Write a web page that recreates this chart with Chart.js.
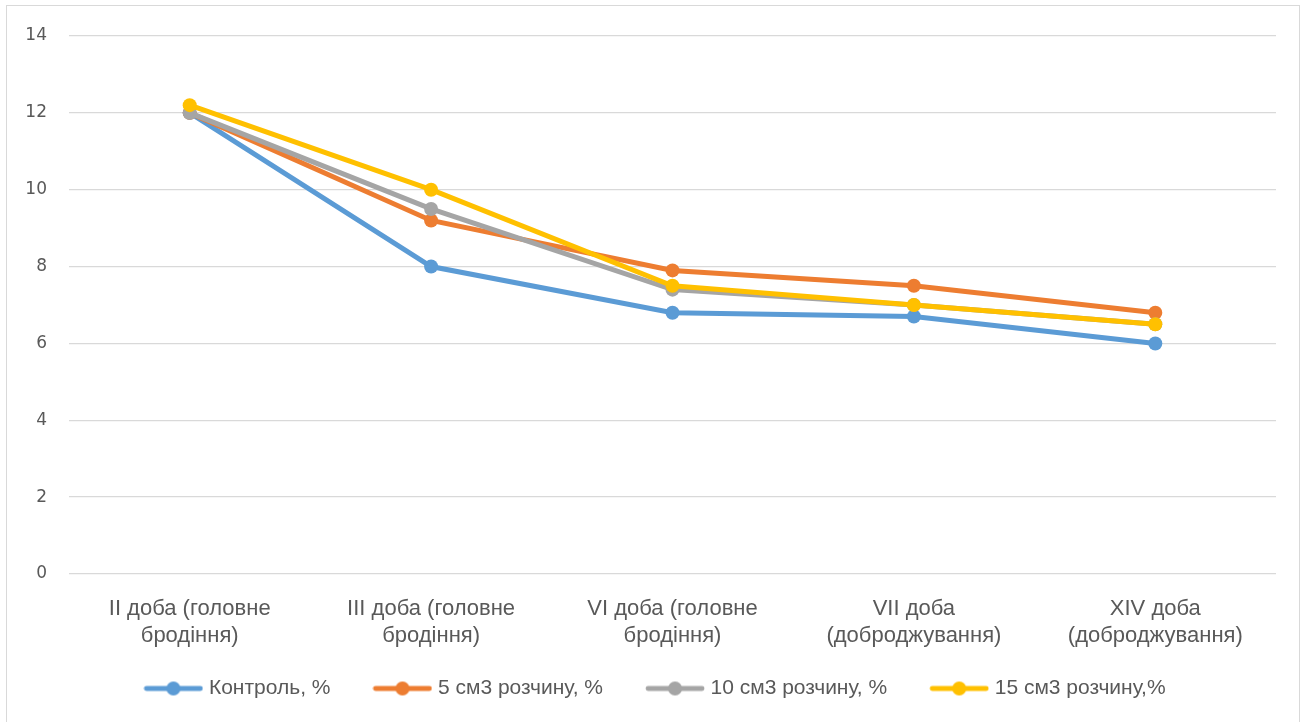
<!DOCTYPE html>
<html>
<head>
<meta charset="utf-8">
<script src="https://cdn.jsdelivr.net/npm/chart.js@4"></script>
<style>
  html, body { margin: 0; padding: 0; background: #fff; }
  #wrap { position: relative; width: 1305px; height: 722px; }
  #frame { position: absolute; left: 6px; top: 5px; width: 1294px; height: 720px; border: 1px solid #d9d9d9; box-sizing: border-box; pointer-events: none; }
  canvas { display: block; }
</style>
</head>
<body>
<div id="wrap">
  <canvas id="c" width="1305" height="722"></canvas>
  <div id="frame"></div>
</div>
<script>
const categories = [
  ['II доба (головне', 'бродіння)'],
  ['III доба (головне', 'бродіння)'],
  ['VI доба (головне', 'бродіння)'],
  ['VII доба', '(доброджування)'],
  ['XIV доба', '(доброджування)']
];
const seriesNames = ['Контроль, %', '5 см3 розчину, %', '10 см3 розчину, %', '15 см3 розчину,%'];
const control = [12, 8, 6.8, 6.7, 6.0];
const dose5 = [12, 9.2, 7.9, 7.5, 6.8];
const dose10 = [12, 9.5, 7.4, 7.0, 6.5];
const dose15 = [12.2, 10, 7.5, 7.0, 6.5];
const yTicks = [0, 2, 4, 6, 8, 10, 12, 14];

const colors = ['#5B9BD5', '#ED7D31', '#A5A5A5', '#FFC000'];
const values = [control, dose5, dose10, dose15];
const labelFont = '"Liberation Sans", "Noto Sans", sans-serif';

// legend swatch: a short line with a dot in the middle
function swatch(color) {
  const cv = document.createElement('canvas');
  cv.width = 60; cv.height = 16;
  const g = cv.getContext('2d');
  g.strokeStyle = color; g.lineWidth = 4.8; g.lineCap = 'round';
  g.beginPath(); g.moveTo(3, 8); g.lineTo(57, 8); g.stroke();
  g.fillStyle = color;
  g.beginPath(); g.arc(30, 8, 7, 0, Math.PI * 2); g.fill();
  return cv;
}

// later series are painted over earlier ones
const datasets = values.map((v, i) => ({
  label: seriesNames[i],
  data: v,
  borderColor: colors[i],
  backgroundColor: colors[i],
  borderWidth: 5,
  pointStyle: 'circle',
  pointRadius: 7,
  pointHoverRadius: 7,
  pointBorderWidth: 0,
  tension: 0,
  order: values.length - i
}));

// pull the legend row up close under the two-line category labels
const legendNudge = {
  id: 'legendNudge',
  afterLayout(chart) {
    const lg = chart.legend;
    lg.top -= 23; lg.bottom -= 23;
    lg.left += 19; lg.right += 19;
  }
};

new Chart(document.getElementById('c'), {
  type: 'line',
  data: { labels: categories, datasets },
  plugins: [legendNudge],
  options: {
    responsive: false,
    animation: false,
    layout: { padding: { top: 36, right: 29, left: 0, bottom: -10 } },
    plugins: {
      tooltip: { enabled: false },
      legend: {
        position: 'bottom',
        labels: {
          usePointStyle: true,
          pointStyleWidth: 50,
          generateLabels(chart) {
            return chart.data.datasets.map((d, i) => ({
              text: d.label,
              pointStyle: swatch(colors[i]),
              fillStyle: colors[i],
              strokeStyle: colors[i],
              lineWidth: 0,
              datasetIndex: i,
              fontColor: '#595959'
            }));
          },
          color: '#595959',
          font: { family: labelFont, size: 21 },
          padding: 47,
          boxHeight: 16
        }
      }
    },
    scales: {
      x: {
        offset: true,
        grid: { display: false },
        border: { display: false },
        ticks: {
          color: '#595959',
          maxRotation: 0,
          autoSkip: false,
          padding: 13,
          font: { family: labelFont, size: 22, lineHeight: 1.25 }
        },
        afterFit(s) { s.height = 80; }
      },
      y: {
        min: 0, max: 14,
        afterBuildTicks(s) { s.ticks = yTicks.map(v => ({ value: v })); },
        grid: { color: '#D9D9D9', lineWidth: 1.3, drawTicks: false },
        border: { display: false },
        ticks: {
          color: '#595959',
          padding: 22,
          font: { family: '"DejaVu Sans", sans-serif', size: 17 }
        },
        afterFit(s) { s.width = 69; }
      }
    }
  }
});
</script>
</body>
</html>
